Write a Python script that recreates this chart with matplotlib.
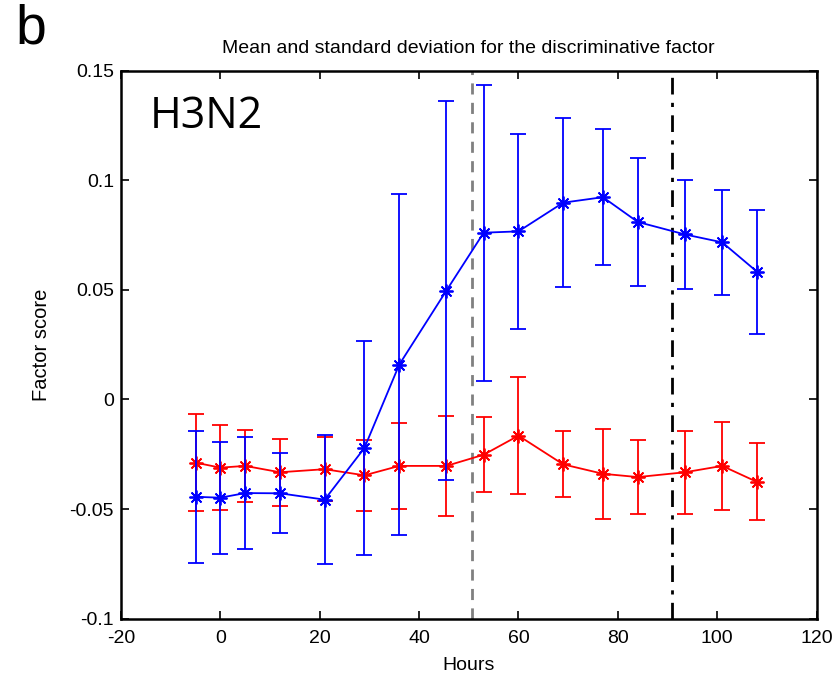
import numpy as np
import matplotlib
matplotlib.use("Agg")
import matplotlib.pyplot as plt
from matplotlib.ticker import FuncFormatter

plt.rcParams['font.family'] = ['Liberation Sans', 'DejaVu Sans']
plt.rcParams['axes.unicode_minus'] = False

hours = [-5, 0, 5, 12, 21, 29, 36, 45.5, 53, 60, 69, 77, 84, 93.5, 101, 108]

blue_mean = [-0.0444, -0.0448, -0.0427, -0.0428, -0.0457, -0.0221, 0.0159, 0.0497,
             0.0761, 0.0767, 0.0898, 0.0923, 0.0810, 0.0753, 0.0717, 0.0583]
blue_std = [0.0300, 0.0256, 0.0257, 0.0183, 0.0295, 0.0490, 0.0777, 0.0865,
            0.0675, 0.0445, 0.0385, 0.0311, 0.0290, 0.0247, 0.0239, 0.0283]

red_mean = [-0.0288, -0.0311, -0.0303, -0.0332, -0.0318, -0.0346, -0.0303, -0.0303,
            -0.0252, -0.0165, -0.0296, -0.0339, -0.0354, -0.0332, -0.0303, -0.0376]
red_std = [0.0221, 0.0195, 0.0165, 0.0154, 0.0147, 0.0162, 0.0195, 0.0228,
           0.0172, 0.0268, 0.0150, 0.0205, 0.0169, 0.0190, 0.0202, 0.0176]

onset_line = 50.6
end_line = 90.8

fig = plt.figure(figsize=(8.36, 6.76), dpi=100)
ax = fig.add_axes([0.1447, 0.0848, 0.8321, 0.8106])

ax.axvline(onset_line, color='#808080', ls=(0, (4, 3)), lw=2, zorder=1)
ax.axvline(end_line, color='black', ls=(0, (6, 3, 1.5, 3)), lw=2, zorder=1)

star = (8, 2, 0)  # matlab-style asterisk
ax.errorbar(hours, red_mean, yerr=red_std, color='red', marker=star, ms=10,
            mew=1.3, lw=1.3, elinewidth=1.3, capsize=6, capthick=1.3, zorder=3)
ax.errorbar(hours, blue_mean, yerr=blue_std, color='blue', marker=star, ms=10,
            mew=1.3, lw=1.3, elinewidth=1.3, capsize=6, capthick=1.3, zorder=4)

ax.set_xlim(-20, 120)
ax.set_ylim(-0.1, 0.15)
ax.set_xticks(np.arange(-20, 121, 20))
ax.set_yticks([-0.1, -0.05, 0, 0.05, 0.1, 0.15])
ax.yaxis.set_major_formatter(FuncFormatter(lambda v, p: '%g' % round(v, 3)))
ax.tick_params(direction='in', top=True, right=True, length=6, width=1.2,
               labelsize=14)
ax.tick_params(axis='x', pad=8)
ax.tick_params(axis='y', pad=5)
for s in ax.spines.values():
    s.set_linewidth(1.8)

ax.set_xlabel('Hours', fontsize=14, labelpad=7)
ax.set_ylabel('Factor score', fontsize=14.5, labelpad=13)
ax.set_title('Mean and standard deviation for the discriminative factor',
             fontsize=14, pad=12.5)

ax.text(0.041, 0.896, 'H3N2', transform=ax.transAxes, fontsize=31,
        family=['Open Sans', 'DejaVu Sans'], va='baseline', ha='left')
fig.text(0.019, 0.995, 'b', fontsize=40, va='top', ha='left')

fig.savefig('out.png', dpi=100)
